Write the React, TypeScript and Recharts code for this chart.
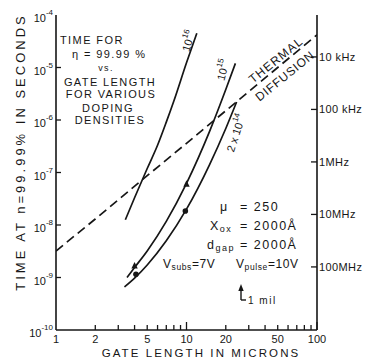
import React from 'react';
import { ComposedChart, Line, Scatter, XAxis, YAxis } from 'recharts';

const INK = '#161616';
const FONT = '"Liberation Sans", Arial, sans-serif';

// gate length (microns) vs. time (seconds)
const thermalLength = [1, 2, 5, 10, 20, 50, 100];
const thermalTime = [3.2e-9, 1.3e-8, 8.7e-8, 3.6e-7, 1.5e-6, 1.0e-5, 4.2e-5];

const dope16Length = [3.4, 4, 5, 6, 7, 8, 10, 12];
const dope16Time = [1.26e-8, 3.3e-8, 1.19e-7, 3.3e-7, 9.1e-7, 2.3e-6, 1.23e-5, 4.5e-5];

const dope15Length = [3.5, 4, 5, 7, 10, 15, 20, 23.7];
const dope15Time = [1.0e-9, 1.55e-9, 3.2e-9, 1.17e-8, 6.2e-8, 6.0e-7, 3.8e-6, 1.2e-5];

const dope214Length = [3.35, 4, 5, 7, 10, 15, 20, 24.2];
const dope214Time = [6.6e-10, 9.7e-10, 1.73e-9, 5.0e-9, 2.0e-8, 1.4e-7, 6.9e-7, 2.2e-6];

const triangleLength = [4, 10];
const triangleTime = [1.65e-9, 6.0e-8];
const circleLength = [4.1, 9.8];
const circleTime = [1.15e-9, 1.85e-8];

const lengthTicks = [1, 2, 3, 4, 5, 6, 7, 8, 9, 10, 20, 30, 40, 50, 60, 70, 80, 90, 100];
const lengthLabels = [1, 2, 5, 10, 20, 50, 100];
const timeTicks = [1e-10, 1e-9, 1e-8, 1e-7, 1e-6, 1e-5, 1e-4];
const timeExps = ['-10', '-9', '-8', '-7', '-6', '-5', '-4'];
const freqTicks = [1.59e-5, 1.59e-6, 1.59e-7, 1.59e-8, 1.59e-9];
const freqLabels = ['10 kHz', '100 kHz', '1MHz', '10MHz', '100MHz'];

const pts = (xs: number[], ys: number[]) => xs.map((x, i) => ({ x, y: ys[i] }));

function LengthTick({ x, y, payload }: any) {
  const v = payload.value;
  const len = v === 1 ? 0 : v === 10 || v === 100 ? 8 : 5;
  return (
    <g>
      {len > 0 && <line x1={x} x2={x} y1={y} y2={y - len} stroke={INK} strokeWidth={1.3} />}
      {lengthLabels.includes(v) && (
        <text x={x} y={y + 9} textAnchor="middle" dominantBaseline="central" fontSize={11} fill={INK} fontFamily={FONT}>
          {v}
        </text>
      )}
    </g>
  );
}

function TimeTick({ x, y, payload }: any) {
  const i = timeTicks.indexOf(payload.value);
  const edge = i === 0 || i === timeTicks.length - 1;
  return (
    <g>
      {!edge && <line x1={x} x2={x + 5} y1={y} y2={y} stroke={INK} strokeWidth={1.3} />}
      <text x={x - 3} y={y + 3} textAnchor="end" dominantBaseline="central" fontSize={11} fill={INK} fontFamily={FONT}>
        10<tspan dy={-6} fontSize={8}>{timeExps[i]}</tspan>
      </text>
    </g>
  );
}

function FreqTick({ x, y, payload }: any) {
  const i = freqTicks.indexOf(payload.value);
  return (
    <g>
      <line x1={x - 6} x2={x} y1={y} y2={y} stroke={INK} strokeWidth={1.3} />
      <text x={x + 2} y={y} textAnchor="start" dominantBaseline="central" fontSize={11} letterSpacing={0.4} fill={INK} fontFamily={FONT}>
        {freqLabels[i]}
      </text>
    </g>
  );
}

const Triangle = ({ cx, cy }: any) => (
  <polygon points={`${cx},${cy - 4} ${cx - 3.2},${cy + 2.5} ${cx + 3.2},${cy + 2.5}`} fill={INK} />
);
const Dot = ({ cx, cy }: any) => <circle cx={cx} cy={cy} r={2.8} fill={INK} />;

const txt = { fill: INK, fontFamily: FONT } as const;

function Notes() {
  return (
    <svg width={369} height={362} style={{ position: 'absolute', left: 0, top: 0, pointerEvents: 'none' }}>
      <text transform="translate(20,152) rotate(-90)" textAnchor="middle" dominantBaseline="central" fontSize={13} letterSpacing={3} {...txt}>
        TIME AT n=99.99% IN SECONDS
      </text>
      <text x={201} y={353} textAnchor="middle" dominantBaseline="central" fontSize={11.5} letterSpacing={2.1} {...txt}>
        GATE LENGTH IN MICRONS
      </text>

      <g fontSize={11} letterSpacing={1.4} {...txt} dominantBaseline="central">
        <text x={60} y={40}>TIME FOR</text>
        <text x={72} y={54}>η = 99.99 %</text>
        <text x={106} y={68} textAnchor="middle" fontSize={9}>vs.</text>
        <text x={110} y={82} textAnchor="middle">GATE LENGTH</text>
        <text x={111} y={94} textAnchor="middle">FOR VARIOUS</text>
        <text x={108} y={108} textAnchor="middle">DOPING</text>
        <text x={110} y={120} textAnchor="middle">DENSITIES</text>
      </g>

      <g fontSize={11} {...txt}>
        <text transform="translate(188.5,41) rotate(-73)" textAnchor="middle" dominantBaseline="central">
          10<tspan dy={-5} fontSize={8}>16</tspan>
        </text>
        <text transform="translate(223,70) rotate(-75)" textAnchor="middle" dominantBaseline="central">
          10<tspan dy={-5} fontSize={8}>15</tspan>
        </text>
        <text transform="translate(236,133) rotate(-72)" textAnchor="middle" dominantBaseline="central">
          2 x 10<tspan dy={-5} fontSize={8}>14</tspan>
        </text>
      </g>
      <text transform="translate(276,60) rotate(-39)" textAnchor="middle" dominantBaseline="central" fontSize={12} letterSpacing={1.2} {...txt}>
        THERMAL
      </text>
      <text transform="translate(285,76) rotate(-39)" textAnchor="middle" dominantBaseline="central" fontSize={12} letterSpacing={0.8} {...txt}>
        DIFFUSION
      </text>

      <g fontSize={12.5} letterSpacing={1.5} {...txt} dominantBaseline="central">
        <text x={220} y={207}>μ</text>
        <text x={240} y={207}>= 250</text>
        <text x={210} y={226}>
          X<tspan dy={3} fontSize={9}>ox</tspan>
        </text>
        <text x={240} y={226}>= 2000Å</text>
        <text x={207} y={245}>
          d<tspan dy={3} fontSize={9}>gap</tspan>
        </text>
        <text x={240} y={245}>= 2000Å</text>
      </g>
      <g fontSize={12} letterSpacing={0.6} {...txt} dominantBaseline="central">
        <text x={163} y={264}>
          V<tspan dy={3} fontSize={8.5}>subs</tspan>
          <tspan dy={-3}>=7V</tspan>
        </text>
        <text x={236} y={264}>
          V<tspan dy={3} fontSize={8.5}>pulse</tspan>
          <tspan dy={-3}>=10V</tspan>
        </text>
      </g>
      <line x1={241} x2={241} y1={289} y2={300} stroke={INK} strokeWidth={1.4} />
      <line x1={241} x2={246} y1={300} y2={300} stroke={INK} strokeWidth={1.4} />
      <polygon points="241,284 238.3,291 243.7,291" fill={INK} />
      <text x={248} y={300} dominantBaseline="central" fontSize={10} letterSpacing={1.5} {...txt}>
        1 mil
      </text>
    </svg>
  );
}

export default function App() {
  return (
    <div style={{ position: 'absolute', left: 0, top: 0, width: 369, height: 362, background: '#fff' }}>
      <ComposedChart width={369} height={362} margin={{ top: 15, right: 0, bottom: 0, left: 0 }}>
        <XAxis
          dataKey="x"
          type="number"
          scale="log"
          domain={[1, 100]}
          allowDataOverflow
          ticks={lengthTicks}
          interval={0}
          height={32}
          tickLine={false}
          tickSize={0}
          tickMargin={0}
          axisLine={{ stroke: INK, strokeWidth: 1.6 }}
          tick={<LengthTick />}
        />
        <XAxis
          xAxisId="top"
          orientation="top"
          type="number"
          scale="log"
          domain={[1, 100]}
          allowDataOverflow
          height={0}
          tick={false}
          tickLine={false}
          axisLine={{ stroke: INK, strokeWidth: 1.6 }}
        />
        <YAxis
          type="number"
          scale="log"
          domain={[1e-10, 1e-4]}
          allowDataOverflow
          ticks={timeTicks}
          interval={0}
          width={56}
          tickLine={false}
          tickSize={0}
          tickMargin={0}
          axisLine={{ stroke: INK, strokeWidth: 1.6 }}
          tick={<TimeTick />}
        />
        <YAxis
          yAxisId="right"
          orientation="right"
          type="number"
          scale="log"
          domain={[1e-10, 1e-4]}
          allowDataOverflow
          ticks={freqTicks}
          interval={0}
          width={52}
          tickLine={false}
          tickSize={0}
          tickMargin={0}
          axisLine={{ stroke: INK, strokeWidth: 1.6 }}
          tick={<FreqTick />}
        />
        <Line data={pts(thermalLength, thermalTime)} dataKey="y" type="linear" stroke={INK} strokeWidth={1.7} strokeDasharray="9 5" dot={false} isAnimationActive={false} />
        <Line data={pts(dope16Length, dope16Time)} dataKey="y" type="monotone" stroke={INK} strokeWidth={1.7} dot={false} isAnimationActive={false} />
        <Line data={pts(dope15Length, dope15Time)} dataKey="y" type="monotone" stroke={INK} strokeWidth={1.7} dot={false} isAnimationActive={false} />
        <Line data={pts(dope214Length, dope214Time)} dataKey="y" type="monotone" stroke={INK} strokeWidth={1.7} dot={false} isAnimationActive={false} />
        <Scatter data={pts(triangleLength, triangleTime)} dataKey="y" shape={<Triangle />} isAnimationActive={false} />
        <Scatter data={pts(circleLength, circleTime)} dataKey="y" shape={<Dot />} isAnimationActive={false} />
      </ComposedChart>
      <Notes />
    </div>
  );
}
